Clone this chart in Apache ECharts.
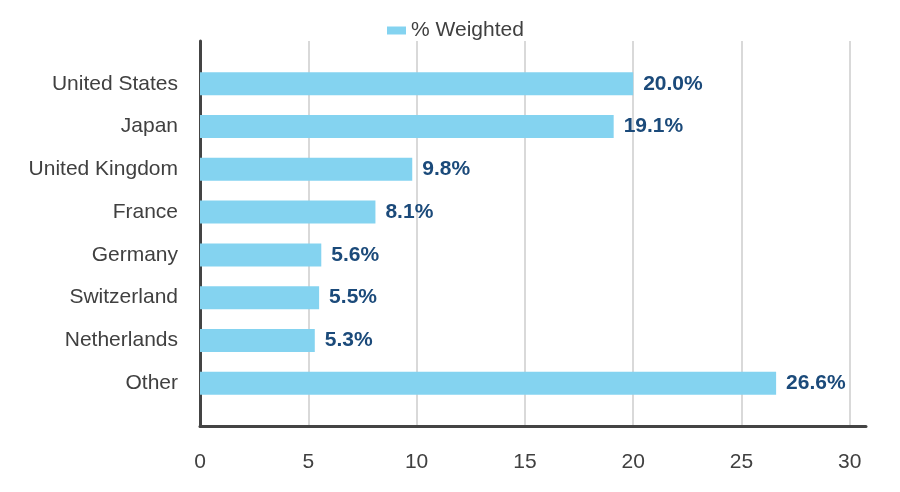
<!DOCTYPE html>
<html>
<head>
<meta charset="utf-8">
<script src="https://cdn.jsdelivr.net/npm/echarts@6/dist/echarts.min.js"></script>
<style>html,body{margin:0;padding:0;background:#fff}#c{width:900px;height:492px}</style>
</head>
<body>
<div id="c"></div>
<script>
const categories = ['United States', 'Japan', 'United Kingdom', 'France', 'Germany', 'Switzerland', 'Netherlands', 'Other'];
const weighted = [20.0, 19.1, 9.8, 8.1, 5.6, 5.5, 5.3, 26.6];
const seriesName = '% Weighted';
const xTicks = [0, 5, 10, 15, 20, 25, 30];

const padCats = [''].concat(categories, ['']);
const padVals = [null].concat(weighted, [null]);

const chart = echarts.init(document.getElementById('c'));
const font = '"Liberation Sans", Arial, sans-serif';
chart.setOption({
  animation: false,
  textStyle: { fontFamily: font },
  legend: {
    data: [{ name: seriesName, icon: 'rect' }],
    top: 15,
    left: 382,
    itemWidth: 19,
    itemHeight: 8,
    itemGap: 8,
    textStyle: { fontSize: 21, color: '#404040', fontFamily: font }
  },
  grid: { left: 200, right: 34, top: 41, bottom: 66, containLabel: false },
  xAxis: {
    type: 'value',
    min: 0,
    max: 30.75,
    interval: 5,
    axisLine: { show: true, lineStyle: { color: '#444', width: 3 } },
    axisTick: { show: false },
    axisLabel: {
      showMaxLabel: false,
      fontSize: 21, color: '#404040', margin: 26, fontFamily: font,
      formatter: v => (xTicks.indexOf(v) >= 0 ? String(v) : '')
    },
    splitLine: { show: true, showMinLine: false, showMaxLine: false, lineStyle: { color: '#d9d9d9', width: 2 } }
  },
  yAxis: {
    type: 'category',
    data: padCats,
    inverse: true,
    boundaryGap: false,
    axisLine: { show: true, lineStyle: { color: '#444', width: 3 } },
    axisTick: { show: false },
    axisLabel: { interval: 0, fontSize: 21, color: '#404040', margin: 22, fontFamily: font },
    splitLine: { show: false }
  },
  series: [{
    name: seriesName,
    type: 'bar',
    data: padVals,
    barWidth: 23,
    itemStyle: { color: '#84D3F0' },
    label: {
      show: true,
      position: 'right',
      distance: 10,
      fontSize: 21,
      fontWeight: 'bold',
      color: '#1B4A7A',
      fontFamily: font,
      formatter: p => (p.value == null ? '' : p.value.toFixed(1) + '%')
    }
  }]
});
</script>
</body>
</html>
